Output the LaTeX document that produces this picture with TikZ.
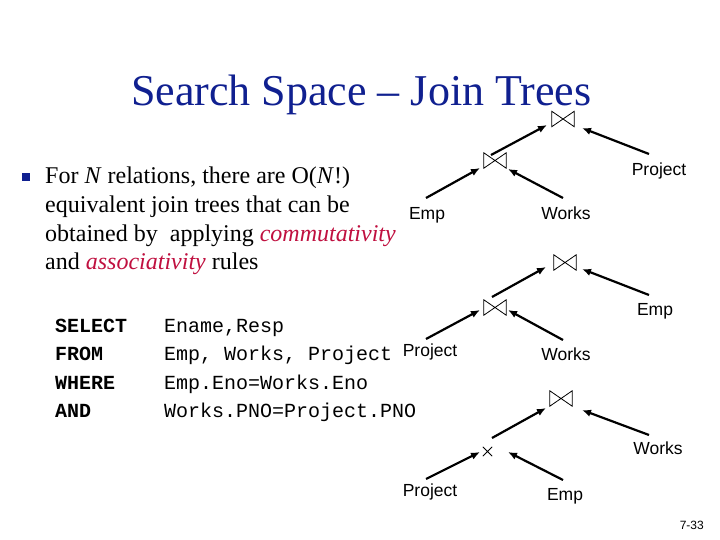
\documentclass[tikz,border=0pt]{standalone}
\usepackage{fontspec}
\setmainfont{Liberation Serif}
\newfontfamily\arialf{Liberation Sans}
\newfontfamily\courf{Liberation Mono}
\usetikzlibrary{arrows.meta,calc}
\definecolor{titleblue}{RGB}{16,32,144}
\definecolor{emred}{RGB}{192,16,64}
\begin{document}
\begin{tikzpicture}[x=1pt,y=-1pt,
  lbl/.style={font=\arialf\fontsize{17.5}{20}\selectfont, inner sep=0pt, text height=12.5pt, text depth=0pt},
  btnode/.style={minimum width=22pt, minimum height=15pt, inner sep=0pt},
  crnode/.style={minimum width=9pt, minimum height=9pt, inner sep=0pt},
  symline/.style={line width=0.8pt},
  arr/.style={line width=2.2pt, -{Latex[length=9pt,width=7.5pt]}},
  body/.style={font=\fontsize{24}{28.5}\selectfont, anchor=base west, inner sep=0pt},
  code/.style={font=\courf\fontsize{20}{24}\selectfont, anchor=base west, inner sep=0pt},
  codekw/.style={font=\courf\bfseries\fontsize{20}{24}\selectfont, anchor=base west, inner sep=0pt}]
\useasboundingbox (0,0) rectangle (720,540);
\fill[white] (0,0) rectangle (720,540);

% title
\node[anchor=base west, inner sep=0pt, text=titleblue, font=\fontsize{44}{48}\selectfont] (title) at (131,106) {Search Space -- Join Trees};

% bullet text
\node[fill=titleblue, minimum size=8pt, inner sep=0pt] (bullet) at (26,177) {};
\node[body] (l1) at (45,184) {For \textit{N} relations, there are O(\textit{N}!)};
\node[body] (l2) at (45,212) {equivalent join trees that can be};
\node[body] (l3) at (45,241) {obtained by\ \ applying \textcolor{emred}{\textit{commutativity}}};
\node[body] (l4) at (45,269) {and \textcolor{emred}{\textit{associativity}} rules};

% SQL
\node[codekw] (k1) at (55,332) {SELECT};
\node[codekw] (k2) at (55,360) {FROM};
\node[codekw] (k3) at (55,389) {WHERE};
\node[codekw] (k4) at (55,417) {AND};
\node[code] (c1) at (164,332) {Ename,Resp};
\node[code] (c2) at (164,360) {Emp, Works, Project};
\node[code] (c3) at (164,389) {Emp.Eno=Works.Eno};
\node[code] (c4) at (164,417) {Works.PNO=Project.PNO};

% ---------- tree 1
\node[btnode] (bt11) at (563,119) {};
\node[btnode] (bt12) at (495,160.5) {};
\node[lbl] (proj1) at (659,169.5) {Project};
\node[lbl] (emp1) at (427,213) {Emp};
\node[lbl] (works1) at (566,213) {Works};
\draw[arr] ($(emp1)+(-1,-15)$) -- ($(bt12)+(-15,7.5)$);
\draw[arr] ($(works1)+(-3,-15)$) -- ($(bt12)+(13,8.5)$);
\draw[arr] ($(bt12)+(-4,-5.5)$) -- ($(bt11)+(-16,6)$);
\draw[arr] ($(proj1)+(-10,-15.5)$) -- ($(bt11)+(19,9)$);

% ---------- tree 2
\node[btnode] (bt21) at (565,262.5) {};
\node[btnode] (bt22) at (495,307.5) {};
\node[lbl] (emp2) at (655,309) {Emp};
\node[lbl] (proj2) at (430,350) {Project};
\node[lbl] (works2) at (566,354) {Works};
\draw[arr] ($(proj2)+(-4,-11)$) -- ($(bt22)+(-15,2.5)$);
\draw[arr] ($(works2)+(-3,-14)$) -- ($(bt22)+(13,2.5)$);
\draw[arr] ($(bt22)+(-3,-10.5)$) -- ($(bt21)+(-19,4.5)$);
\draw[arr] ($(emp2)+(-6,-14)$) -- ($(bt21)+(17,6.5)$);

% ---------- tree 3
\node[btnode] (bt31) at (561,398.5) {};
\node[crnode] (cr32) at (487.5,451.5) {};
\node[lbl] (works3) at (658,448.5) {Works};
\node[lbl] (proj3) at (430,490) {Project};
\node[lbl] (emp3) at (565,494) {Emp};
\draw[arr] ($(proj3)+(-4,-11)$) -- ($(cr32)+(-7.5,0.5)$);
\draw[arr] ($(emp3)+(-2,-14)$) -- ($(cr32)+(20.5,0.5)$);
\draw[arr] ($(cr32)+(4.5,-13.5)$) -- ($(bt31)+(-15,9.5)$);
\draw[arr] ($(works3)+(-9,-13.5)$) -- ($(bt31)+(21,11.5)$);

% join symbols
\foreach \b in {bt11,bt12,bt21,bt22,bt31}
  \draw[symline] (\b.north west) -- (\b.south west) -- (\b.north east) -- (\b.south east) -- cycle;
\draw[symline] (cr32.north west) -- (cr32.south east) (cr32.south west) -- (cr32.north east);

% page number
\node[anchor=base east, inner sep=0pt, font=\arialf\fontsize{12}{14}\selectfont] (pg) at (704,529) {7-33};
\end{tikzpicture}
\end{document}
